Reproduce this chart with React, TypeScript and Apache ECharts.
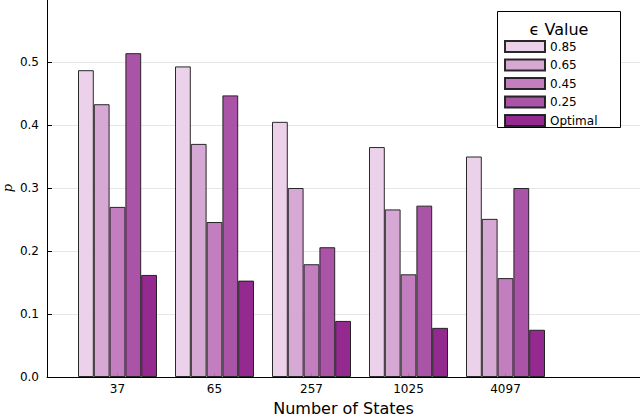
import React, { useEffect, useRef } from "react";
import * as echarts from "echarts";

const states = ["37", "65", "257", "1025", "4097"];
const seriesNames = ["0.85", "0.65", "0.45", "0.25", "Optimal"];
const eps085 = [0.487, 0.493, 0.405, 0.365, 0.35];
const eps065 = [0.433, 0.37, 0.3, 0.266, 0.251];
const eps045 = [0.27, 0.246, 0.179, 0.163, 0.157];
const eps025 = [0.514, 0.447, 0.206, 0.272, 0.3];
const optimal = [0.162, 0.153, 0.089, 0.078, 0.075];
const colors = ["#e9cde7", "#d3a1d1", "#bd74ba", "#a447a0", "#8c1a88"];

const FONT = "DejaVu Sans";

const App: React.FC = () => {
  const chartRef = useRef<HTMLDivElement>(null);

  useEffect(() => {
    if (!chartRef.current) return;
    const chart = echarts.init(chartRef.current, undefined, { renderer: "svg" });

    const allSeries = [eps085, eps065, eps045, eps025, optimal];

    const option = {
      animation: false,
      backgroundColor: "#ffffff",
      textStyle: { fontFamily: FONT },
      grid: [
        // axes frame
        { left: 47, right: 0, top: -1, bottom: 40, outerBoundsMode: "none", containLabel: false },
        // bars: one 97px band per state, first centred at x=117.5
        { left: 69, width: 485, top: -1, bottom: 40, outerBoundsMode: "none", containLabel: false },
      ],
      xAxis: [
        {
          type: "value",
          gridIndex: 0,
          min: 0,
          max: 1,
          name: "Number of States",
          nameLocation: "middle",
          nameGap: 23,
          nameTextStyle: { fontSize: 16, color: "#000", fontFamily: FONT },
          axisLine: { show: true, lineStyle: { color: "#000", width: 1 } },
          axisTick: { show: false },
          axisLabel: { show: false },
          splitLine: { show: false },
        },
        {
          type: "category",
          gridIndex: 1,
          data: states,
          axisLine: { show: false },
          axisTick: {
            show: true,
            inside: true,
            length: 4,
            alignWithLabel: true,
            lineStyle: { color: "#000" },
          },
          axisLabel: {
            fontSize: 12,
            color: "#000",
            margin: 6,
            fontFamily: FONT,
          },
          splitLine: { show: false },
        },
      ],
      yAxis: [
        {
          type: "value",
          gridIndex: 0,
          min: 0,
          max: 0.6,
          interval: 0.1,
          name: "p",
          nameLocation: "middle",
          nameRotate: 90,
          nameGap: 33,
          nameMoveOverlap: false,
          nameTextStyle: {
            fontSize: 13,
            fontStyle: "italic",
            color: "#000",
            fontFamily: "DejaVu Serif",
          },
          axisLine: { show: true, lineStyle: { color: "#000", width: 1 } },
          axisTick: { show: true, inside: true, length: 5, lineStyle: { color: "#000" } },
          axisLabel: {
            formatter: (v: number) => v.toFixed(1),
            fontSize: 12,
            color: "#000",
            margin: 8,
            showMaxLabel: false,
            fontFamily: FONT,
          },
          splitLine: { show: true, lineStyle: { color: "#e6e6e6", width: 1 } },
        },
        {
          type: "value",
          gridIndex: 1,
          min: 0,
          max: 0.6,
          show: false,
          splitLine: { show: false },
        },
      ],
      legend: {
        orient: "vertical",
        left: 504,
        top: 40,
        itemWidth: 40,
        itemHeight: 11,
        itemGap: 5.5,
        padding: 0,
        icon: "rect",
        data: seriesNames,
        textStyle: { fontSize: 12, color: "#000", fontFamily: FONT },
        z: 10,
      },
      graphic: [
        {
          type: "rect",
          z: 5,
          shape: { x: 497.5, y: 11.5, width: 123, height: 116 },
          style: { fill: "#fff", stroke: "#000", lineWidth: 1 },
        },
        {
          type: "text",
          z: 11,
          x: 559,
          y: 29,
          style: {
            text: "\u03f5 Value",
            fontSize: 16,
            fontFamily: FONT,
            fill: "#000",
            align: "center",
            verticalAlign: "middle",
          },
        },
      ],
      series: allSeries.map((vals, si) => ({
        name: seriesNames[si],
        type: "bar",
        xAxisIndex: 1,
        yAxisIndex: 1,
        barWidth: 15.8,
        barGap: "0%",
        data: vals,
        itemStyle: {
          color: colors[si],
          borderColor: "#1a1a1a",
          borderWidth: 1,
          opacity: 0.93,
        },
      })),
    };

    chart.setOption(option);
    return () => chart.dispose();
  }, []);

  return (
    <div
      ref={chartRef}
      style={{ position: "fixed", left: 0, top: 0, width: "640px", height: "417px" }}
    />
  );
};

export default App;
